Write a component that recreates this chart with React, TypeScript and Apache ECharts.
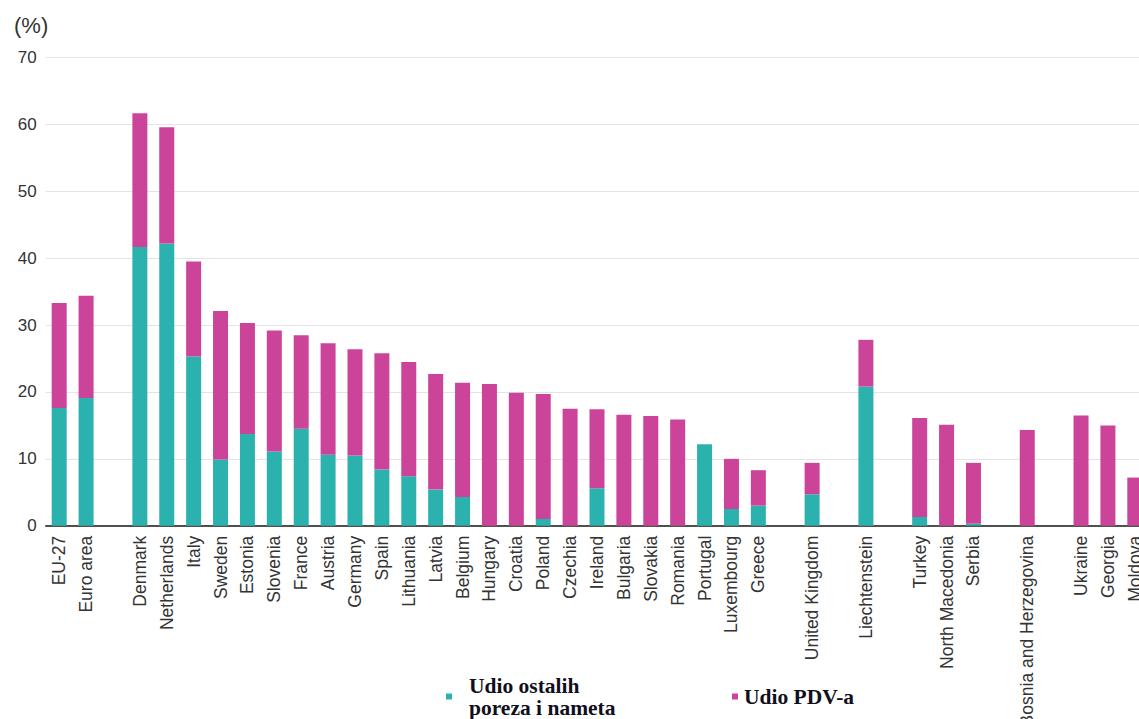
import React, { useEffect, useRef } from "react";
import * as echarts from "echarts";

const categories = [
  "EU-27", "Euro area", "gap1", "Denmark", "Netherlands", "Italy", "Sweden", "Estonia",
  "Slovenia", "France", "Austria", "Germany", "Spain", "Lithuania", "Latvia", "Belgium",
  "Hungary", "Croatia", "Poland", "Czechia", "Ireland", "Bulgaria", "Slovakia", "Romania",
  "Portugal", "Luxembourg", "Greece", "gap2", "United Kingdom", "gap3", "Liechtenstein",
  "gap4", "Turkey", "North Macedonia", "Serbia", "gap5", "Bosnia and Herzegovina", "gap6",
  "Ukraine", "Georgia", "Moldova",
];

// Share of other taxes and levies (teal)
const otherTaxes = [
  17.6, 19.1, null, 41.7, 42.2, 25.3, 9.9, 13.7,
  11.1, 14.5, 10.6, 10.5, 8.4, 7.4, 5.4, 4.3,
  0, 0, 1.0, 0, 5.6, 0, 0, 0,
  12.2, 2.5, 3.0, null, 4.7, null, 20.8,
  null, 1.3, 0, 0.3, null, 0, null,
  0, 0, 0,
];

// Share of VAT (magenta)
const vatShare = [
  15.7, 15.3, null, 20.0, 17.4, 14.2, 22.2, 16.6,
  18.1, 14.0, 16.7, 15.9, 17.4, 17.1, 17.3, 17.1,
  21.2, 19.9, 18.7, 17.5, 11.8, 16.6, 16.4, 15.9,
  0, 7.5, 5.3, null, 4.7, null, 7.0,
  null, 14.8, 15.1, 9.1, null, 14.3, null,
  16.5, 15.0, 7.2,
];

const yTicks = [0, 10, 20, 30, 40, 50, 60, 70];

const seriesNames = ["Udio ostalih\nporeza i nameta", "Udio PDV-a"];
const TEAL = "#2cb2ae";
const MAGENTA = "#cc4499";

export default function App() {
  const ref = useRef<HTMLDivElement>(null);
  useEffect(() => {
    if (!ref.current) return;
    const chart = echarts.init(ref.current, undefined, { renderer: "svg" });
    const legendText = {
      fontFamily: "'Liberation Serif', 'Times New Roman', serif",
      fontWeight: "bold" as const,
      fontSize: 21.5,
      color: "#10101c",
      lineHeight: 22,
    };
    chart.setOption({
      animation: false,
      backgroundColor: "#ffffff",
      grid: {
        left: 45.75,
        top: 57.7,
        width: 1102.5,
        bottom: 193.3,
        containLabel: false,
        outerBoundsMode: "none",
      },
      graphic: [
        {
          type: "text",
          left: 14,
          top: 14,
          style: {
            text: "(%)",
            fontSize: 22,
            fontFamily: "'Liberation Sans', Arial, sans-serif",
            fill: "#333333",
          },
        },
      ],
      legend: [
        {
          data: [seriesNames[0]],
          left: 441,
          top: 660,
          icon: "rect",
          itemWidth: 6,
          itemHeight: 6,
          textStyle: { ...legendText, padding: [0, 0, 19, 12] },
        },
        {
          data: [seriesNames[1]],
          left: 727,
          top: 654,
          icon: "rect",
          itemWidth: 6,
          itemHeight: 6,
          textStyle: { ...legendText, padding: [0, 0, 53, 1] },
        },
      ],
      xAxis: {
        type: "category",
        data: categories,
        axisTick: { show: false },
        axisLine: { lineStyle: { color: "#1a1a1a", width: 1.5 } },
        axisLabel: {
          rotate: 90,
          interval: 0,
          margin: 10,
          fontSize: 17.5,
          color: "#333333",
          fontFamily: "'Liberation Sans', Arial, sans-serif",
          formatter: (v: string) => (v.startsWith("gap") ? "" : v),
        },
      },
      yAxis: {
        type: "value",
        min: yTicks[0],
        max: yTicks[yTicks.length - 1],
        interval: 10,
        axisLine: { show: false },
        axisTick: { show: false },
        splitLine: { lineStyle: { color: "#e4e4e4", width: 1 } },
        axisLabel: {
          fontSize: 17,
          color: "#333333",
          margin: 9,
          fontFamily: "'Liberation Sans', Arial, sans-serif",
        },
      },
      series: [
        {
          name: seriesNames[0],
          type: "bar",
          stack: "total",
          barWidth: 15,
          itemStyle: { color: TEAL },
          data: otherTaxes,
        },
        {
          name: seriesNames[1],
          type: "bar",
          stack: "total",
          barWidth: 15,
          itemStyle: { color: MAGENTA },
          data: vatShare,
        },
      ],
    });
    return () => chart.dispose();
  }, []);
  return (
    <div
      style={{
        position: "fixed",
        left: 0,
        top: 0,
        width: 1139,
        height: 719,
        overflow: "hidden",
      }}
    >
      <div ref={ref} style={{ width: 1152, height: 719 }} />
    </div>
  );
}
